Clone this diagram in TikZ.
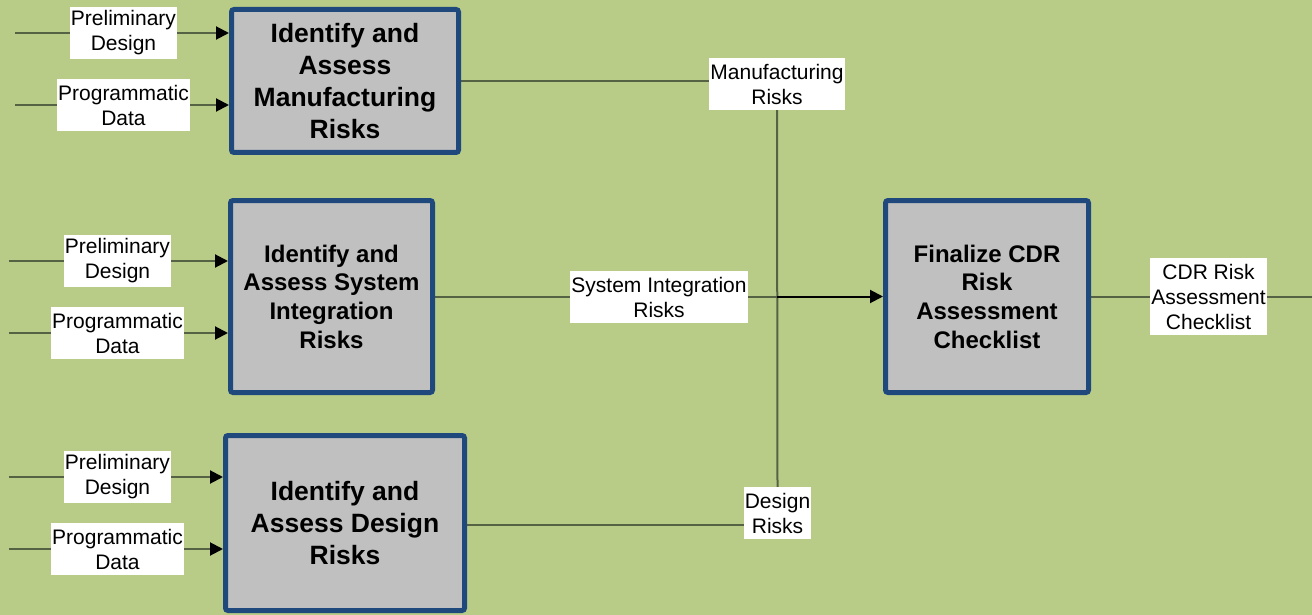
\documentclass[tikz,border=0pt]{standalone}
\usepackage{fontspec}
\setmainfont{Liberation Sans}
\usetikzlibrary{arrows.meta}
\pgfdeclarelayer{back}
\pgfdeclarelayer{lines}
\pgfsetlayers{back,lines,main}
\definecolor{bgc}{RGB}{184,204,136}
\definecolor{boxfill}{RGB}{192,192,192}
\definecolor{boxedge}{RGB}{31,73,125}
\definecolor{lineol}{RGB}{85,98,68}
\begin{document}
\begin{tikzpicture}[x=1pt,y=-1pt,
  proc/.style={draw=boxedge, line width=5pt, fill=boxfill, rounded corners=2.5pt,
    align=center, inner sep=0pt, font=\bfseries\fontsize{26.5}{32}\selectfont},
  procs/.style={proc, font=\bfseries\fontsize{24}{28.7}\selectfont},
  lbl/.style={fill=white, inner sep=0pt, align=center, minimum height=52pt,
    font=\fontsize{21}{25}\selectfont},
  wire/.style={draw=lineol, line width=2pt},
  inarrow/.style={wire, -{Triangle[length=13pt,width=13pt,color=black]}},
  outarrow/.style={draw=black, line width=2pt, -{Triangle[length=13pt,width=13pt]}},
]
\useasboundingbox (0,0) rectangle (1312,615);
\begin{pgfonlayer}{back}
\fill[bgc] (0,0) rectangle (1312,615);
\end{pgfonlayer}

% process boxes
\node[proc, minimum width=227pt, minimum height=143pt] (b1) at (345,81)
  {Identify and\\Assess\\Manufacturing\\Risks};
\node[procs, minimum width=202pt, minimum height=192pt] (b2) at (331.5,296.5)
  {Identify and\\Assess System\\Integration\\Risks};
\node[proc, minimum width=239pt, minimum height=175pt] (b3) at (345,523)
  {Identify and\\Assess Design\\Risks};
\node[procs, minimum width=203pt, minimum height=192pt] (b4) at (987,296.5)
  {Finalize CDR\\Risk\\Assessment\\Checklist};

% labels
\node[lbl, minimum width=107pt] (p1) at (123.5,33) {Preliminary\\Design};
\node[lbl, minimum width=133pt] (d1) at (123.5,105) {Programmatic\\Data};
\node[lbl, minimum width=107pt] (p2) at (117.5,261) {Preliminary\\Design};
\node[lbl, minimum width=133pt] (d2) at (117.5,333) {Programmatic\\Data};
\node[lbl, minimum width=107pt] (p3) at (117.5,477) {Preliminary\\Design};
\node[lbl, minimum width=133pt] (d3) at (117.5,549) {Programmatic\\Data};
\node[lbl, minimum width=136pt] (mr) at (777,84) {Manufacturing\\Risks};
\node[lbl, minimum width=178pt] (si) at (659,297) {System Integration\\Risks};
\node[lbl, minimum width=67pt] (dr) at (777.5,513) {Design\\Risks};
\node[lbl, minimum width=117pt, minimum height=77pt] (cdr) at (1208.5,296.5)
  {CDR Risk\\Assessment\\Checklist};

% free ends
\coordinate (s1) at (15,33);
\coordinate (s2) at (15,105);
\coordinate (s3) at (9,261);
\coordinate (s4) at (9,333);
\coordinate (s5) at (9,477);
\coordinate (s6) at (9,549);
\coordinate (out) at (1312,296.5);
\coordinate (j) at (777,296.5);

\begin{pgfonlayer}{lines}
\draw[inarrow] (s1) -- (s1 -| b1.west);
\draw[inarrow] (s2) -- (s2 -| b1.west);
\draw[inarrow] (s3) -- (s3 -| b2.west);
\draw[inarrow] (s4) -- (s4 -| b2.west);
\draw[inarrow] (s5) -- (s5 -| b3.west);
\draw[inarrow] (s6) -- (s6 -| b3.west);
\draw[wire] (b1.east |- 0,81) -- (mr.west |- 0,81);
\draw[wire] (b3.east |- 0,525) -- (dr.west |- 0,525);
\draw[wire] (b2.east) -- (j);
\draw[wire] (mr.south) -- (dr.north);
\draw[outarrow] (j) -- (b4.west);
\draw[wire] (b4.east) -- (out);
\end{pgfonlayer}
\end{tikzpicture}
\end{document}
